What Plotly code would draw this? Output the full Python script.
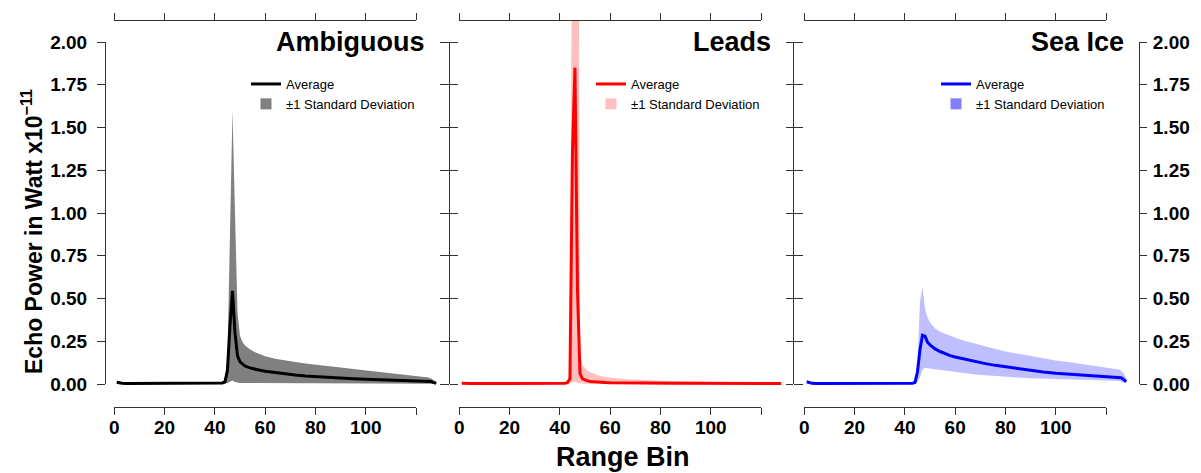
import plotly.graph_objects as go

# ---------------- data ----------------
bins = [1, 2, 3, 5, 10, 20, 30, 40,
        42, 43, 44, 45, 46, 47, 48, 49, 50, 51, 52,
        54, 56, 58, 60,
        64, 68, 72, 76, 80,
        85, 90, 95, 100, 105, 110, 115, 120,
        123, 125, 126, 127, 128]

amb_mean = [0.010, 0.006, 0.004, 0.003, 0.003, 0.003, 0.003, 0.004,
            0.005, 0.006, 0.012, 0.080, 0.340, 0.545, 0.300, 0.165, 0.130, 0.115, 0.105,
            0.094, 0.086, 0.080, 0.075,
            0.066, 0.058, 0.052, 0.047, 0.043,
            0.038, 0.034, 0.031, 0.028, 0.026, 0.024, 0.022, 0.020,
            0.019, 0.017, 0.014, 0.009, 0.004]
amb_upper = [0.015, 0.010, 0.008, 0.006, 0.006, 0.006, 0.006, 0.008,
             0.010, 0.012, 0.030, 0.150, 0.850, 1.600, 1.000, 0.420, 0.280, 0.245, 0.225,
             0.202, 0.186, 0.173, 0.162,
             0.148, 0.137, 0.128, 0.120, 0.112,
             0.104, 0.096, 0.088, 0.080, 0.072, 0.064, 0.056, 0.048,
             0.043, 0.038, 0.032, 0.022, 0.010]
amb_lower = [0.005, 0.003, 0.002, 0.001, 0.001, 0.001, 0.001, 0.001,
             0.002, 0.002, 0.003, 0.006, 0.012, 0.020, 0.012, 0.008, 0.006, 0.006, 0.006,
             0.006, 0.006, 0.006, 0.006,
             0.005, 0.005, 0.005, 0.005, 0.005,
             0.005, 0.005, 0.005, 0.005, 0.004, 0.004, 0.004, 0.004,
             0.004, 0.003, 0.003, 0.002, 0.001]

leads_mean = [0.004, 0.003, 0.003, 0.003, 0.003, 0.003, 0.003, 0.003,
              0.004, 0.008, 0.030, 1.350, 1.850, 0.550, 0.060, 0.030, 0.022, 0.018, 0.015,
              0.012, 0.010, 0.009, 0.008,
              0.007, 0.007, 0.006, 0.006, 0.006,
              0.005, 0.005, 0.005, 0.005, 0.005, 0.004, 0.004, 0.004,
              0.004, 0.004, 0.003, 0.003, 0.003]
leads_upper = [0.006, 0.005, 0.005, 0.005, 0.005, 0.005, 0.005, 0.006,
               0.008, 0.015, 0.060, 3.500, 5.000, 5.000, 0.180, 0.110, 0.090, 0.077, 0.068,
               0.056, 0.047, 0.041, 0.036,
               0.030, 0.026, 0.023, 0.021, 0.019,
               0.017, 0.016, 0.015, 0.014, 0.013, 0.012, 0.012, 0.011,
               0.011, 0.010, 0.009, 0.008, 0.006]
leads_lower = [0.002, 0.001, 0.001, 0.001, 0.001, 0.001, 0.001, 0.001,
               0.001, 0.002, 0.004, 0.010, 0.015, 0.008, 0.004, 0.003, 0.002, 0.002, 0.002,
               0.002, 0.002, 0.002, 0.002,
               0.002, 0.002, 0.002, 0.002, 0.002,
               0.001, 0.001, 0.001, 0.001, 0.001, 0.001, 0.001, 0.001,
               0.001, 0.001, 0.001, 0.001, 0.001]

sea_mean = [0.013, 0.007, 0.004, 0.003, 0.003, 0.003, 0.003, 0.003,
            0.003, 0.004, 0.008, 0.070, 0.200, 0.285, 0.280, 0.245, 0.228, 0.215, 0.205,
            0.190, 0.177, 0.166, 0.158,
            0.144, 0.131, 0.119, 0.109, 0.100,
            0.090, 0.080, 0.070, 0.063, 0.058, 0.053, 0.049, 0.045,
            0.043, 0.040, 0.036, 0.027, 0.014]
sea_upper = [0.020, 0.012, 0.007, 0.006, 0.006, 0.006, 0.006, 0.006,
             0.006, 0.007, 0.015, 0.120, 0.480, 0.570, 0.440, 0.390, 0.360, 0.340, 0.325,
             0.305, 0.292, 0.280, 0.270,
             0.252, 0.235, 0.218, 0.204, 0.190,
             0.176, 0.162, 0.150, 0.138, 0.128, 0.117, 0.107, 0.098,
             0.092, 0.085, 0.078, 0.062, 0.035]
sea_lower = [0.006, 0.003, 0.001, 0.000, 0.000, 0.000, 0.000, 0.000,
             0.000, 0.000, 0.002, 0.010, 0.040, 0.085, 0.095, 0.092, 0.090, 0.088, 0.086,
             0.082, 0.077, 0.072, 0.068,
             0.062, 0.056, 0.051, 0.046, 0.042,
             0.038, 0.034, 0.031, 0.028, 0.026, 0.025, 0.024, 0.022,
             0.021, 0.017, 0.013, 0.008, 0.003]

panel_titles = ["Ambiguous", "Leads", "Sea Ice"]
legend_labels = ["Average", "\u00b11 Standard Deviation"]
x_tick_vals = [0, 20, 40, 60, 80, 100, 120]
x_tick_text = ["0", "20", "40", "60", "80", "100", " "]
y_tick_vals = [0, 0.25, 0.5, 0.75, 1.0, 1.25, 1.5, 1.75, 2.0]
y_tick_text = ["0.00", "0.25", "0.50", "0.75", "1.00", "1.25", "1.50", "1.75", "2.00"]

# ---------------- styling / geometry ----------------
W, H = 1201, 473
BODY = 8                      # default page margin in front of the figure
FONT = "Liberation Sans, Arial, Helvetica, sans-serif"
AX = "#333333"

def fx(p):
    return (p - BODY) / W

def fy(p):
    return 1 - (p - BODY) / H

PANEL_L = [104, 449, 794]
PANEL_W = 345
XR = [-4.08, 133.08]
Y_TOP_PX, Y_BOT_PX = 20, 407
Y0_PX, Y2_PX = 384, 42
PPU = (Y0_PX - Y2_PX) / 2.0
YR = [(Y0_PX - Y_BOT_PX) / PPU, (Y0_PX - Y_TOP_PX) / PPU]

def xpix(i, v):
    return PANEL_L[i] + (v - XR[0]) / (XR[1] - XR[0]) * PANEL_W

series = [
    (amb_mean, amb_lower, amb_upper, "#000000", "rgb(128,128,128)", "rgb(128,128,128)"),
    (leads_mean, leads_lower, leads_upper, "#ff0000", "rgb(255,191,191)", "rgb(255,191,191)"),
    (sea_mean, sea_lower, sea_upper, "#0000ff", "rgb(191,191,255)", "rgb(128,128,255)"),
]

fig = go.Figure()
legend_names = ["legend", "legend2", "legend3"]
for i, (m, lo, up, lc, bc, sq) in enumerate(series):
    xa = "x" if i == 0 else "x%d" % (i + 1)
    fig.add_trace(go.Scatter(x=bins, y=lo, mode="lines", line=dict(width=0, color=bc),
                             xaxis=xa, yaxis="y", showlegend=False, hoverinfo="skip"))
    fig.add_trace(go.Scatter(x=bins, y=up, mode="lines", line=dict(width=0, color=bc),
                             fill="tonexty", fillcolor=bc,
                             xaxis=xa, yaxis="y", showlegend=False, hoverinfo="skip"))
    fig.add_trace(go.Scatter(x=bins, y=m, mode="lines", line=dict(width=3, color=lc),
                             name=legend_labels[0], legend=legend_names[i],
                             xaxis=xa, yaxis="y"))
    fig.add_trace(go.Scatter(x=[None], y=[None], mode="markers",
                             marker=dict(symbol="square", size=11, color=sq),
                             name=legend_labels[1], legend=legend_names[i],
                             xaxis=xa, yaxis="y"))

layout = dict(
    width=W, height=H, margin=dict(l=0, r=0, t=0, b=0, pad=0, autoexpand=False),
    paper_bgcolor="white", plot_bgcolor="rgba(0,0,0,0)",
    font=dict(family=FONT, color="black"),
    yaxis=dict(domain=[fy(Y_BOT_PX), fy(Y_TOP_PX)], range=YR, visible=False,
               fixedrange=True, automargin=False),
)

tick_font = dict(family=FONT, size=19, color="black", weight="bold")

for i in range(3):
    key = "xaxis" if i == 0 else "xaxis%d" % (i + 1)
    layout[key] = dict(domain=[fx(PANEL_L[i]), fx(PANEL_L[i] + PANEL_W)], range=XR,
                       visible=False, anchor="y", fixedrange=True, automargin=False)
    dom = [fx(xpix(i, 0)), fx(xpix(i, 120))]
    common = dict(domain=dom, range=[0, 120], anchor="free", showline=True,
                  linecolor=AX, linewidth=1, ticks="outside", tickcolor=AX,
                  tickwidth=1, ticklen=7, tickvals=x_tick_vals, ticktext=x_tick_text,
                  showgrid=False, zeroline=False, fixedrange=True, tickfont=tick_font,
                  automargin=False)
    layout["xaxis%d" % (4 + 2 * i)] = dict(common, position=fy(Y_BOT_PX), side="bottom",
                                           showticklabels=True, ticklabelstandoff=-4)
    layout["xaxis%d" % (5 + 2 * i)] = dict(common, position=fy(Y_TOP_PX), side="top",
                                           showticklabels=False)

ydom = [fy(Y0_PX), fy(Y2_PX)]
ycommon = dict(domain=ydom, range=[0, 2], anchor="free", showline=True, linecolor=AX,
               linewidth=1, ticks="outside", tickcolor=AX, tickwidth=1,
               tickvals=y_tick_vals, ticktext=y_tick_text, showgrid=False,
               zeroline=False, fixedrange=True, tickfont=tick_font, automargin=False)
yspecs = [
    (2, 105, "left", 8, True, 6),
    (3, 449, "left", 9, False, 3),
    (4, 449, "right", 8, False, 3),
    (5, 793, "left", 7, False, 3),
    (6, 793, "right", 9, False, 3),
    (7, 1139, "right", 7, True, 2),
]
for (n, xp, side, tl, lab, so) in yspecs:
    layout["yaxis%d" % n] = dict(ycommon, position=fx(xp), side=side, ticklen=tl,
                                 showticklabels=lab, ticklabelstandoff=so)

# empty traces that attach the tick axes
pairs = [("x4", "y2"), ("x5", "y3"), ("x6", "y4"), ("x7", "y5"), ("x8", "y6"), ("x9", "y7")]
for xa, ya in pairs:
    fig.add_trace(go.Scatter(x=[], y=[], xaxis=xa, yaxis=ya, showlegend=False,
                             hoverinfo="skip", mode="lines"))

leg_left = [246, 591, 936]
for i, ln in enumerate(legend_names):
    layout[ln] = dict(x=fx(leg_left[i]), y=fy(69), xanchor="left", yanchor="top",
                      bgcolor="rgba(0,0,0,0)", borderwidth=0, traceorder="normal",
                      font=dict(family=FONT, size=13, color="black"),
                      tracegroupgap=0)

title_right = [427, 773, 1126]
annotations = []
for i, t in enumerate(panel_titles):
    annotations.append(dict(text=t, x=fx(title_right[i]), y=fy(42), xref="paper", yref="paper",
                            xanchor="right", yanchor="middle", showarrow=False,
                            font=dict(family=FONT, size=27, color="black", weight="bold")))
annotations.append(dict(text="Range Bin", x=fx(623), y=fy(457), xref="paper", yref="paper",
                        xanchor="center", yanchor="middle", showarrow=False,
                        font=dict(family=FONT, size=27, color="black", weight="bold")))
annotations.append(dict(text="Echo Power in Watt x10<sup>\u221211</sup>", x=fx(32), y=fy(232),
                        xref="paper", yref="paper", xanchor="center", yanchor="middle",
                        textangle=-90, showarrow=False,
                        font=dict(family=FONT, size=23, color="black", weight="bold")))
layout["annotations"] = annotations

fig.update_layout(**layout)
fig.write_html("out.html")
